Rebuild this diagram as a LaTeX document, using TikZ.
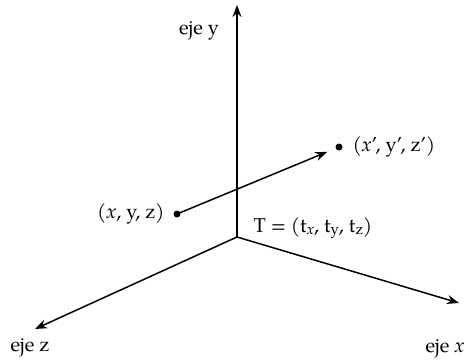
\documentclass[tikz,border=0pt]{standalone}
\usepackage{fontspec}
\setmainfont{TeX Gyre Pagella}
\usetikzlibrary{arrows.meta}
\begin{document}
\begin{tikzpicture}[x=1pt,y=-1pt,>={Stealth[length=12pt,width=9pt]}, font=\fontsize{20}{22}\selectfont, line join=round, line cap=round]
	\useasboundingbox (0,0) rectangle (472,364);
	\tikzset{eje/.style={->,line width=1.5pt},
		punto/.style={circle,fill=black,inner sep=0pt,minimum size=7pt}}
	\coordinate (O) at (237,237);
	\coordinate (Y) at (237,5);
	\coordinate (Z) at (35,329);
	\coordinate (X) at (459,303);
	\draw[eje] (O)--(Y);
	\draw[eje] (O)--(Z);
	\draw[eje] (O)--(X);
	\node (ejey) at (199,31) {eje y};
	\node (ejez) at (30,348) {eje z};
	\node (ejex) at (445,349) {eje \textit{x}};
	\node[punto] (p) at (177,214) {};
	\node[punto] (q) at (339,147) {};
	\draw[eje,shorten >=9pt] (p)--(q);
	\node[left=9pt] (lp) at (p.center) {(\textit{x}, y, z)};
	\node[right=10pt] (lq) at (q.center) {(\textit{x}', y', z')};
	\node[anchor=west] (T) at (250,228) {T = (t\raisebox{-0.2ex}{\fontsize{15}{15}\selectfont\textit{x}}, t\raisebox{-0.2ex}{\fontsize{15}{15}\selectfont y}, t\raisebox{-0.2ex}{\fontsize{15}{15}\selectfont z})};
\end{tikzpicture}
\end{document}
